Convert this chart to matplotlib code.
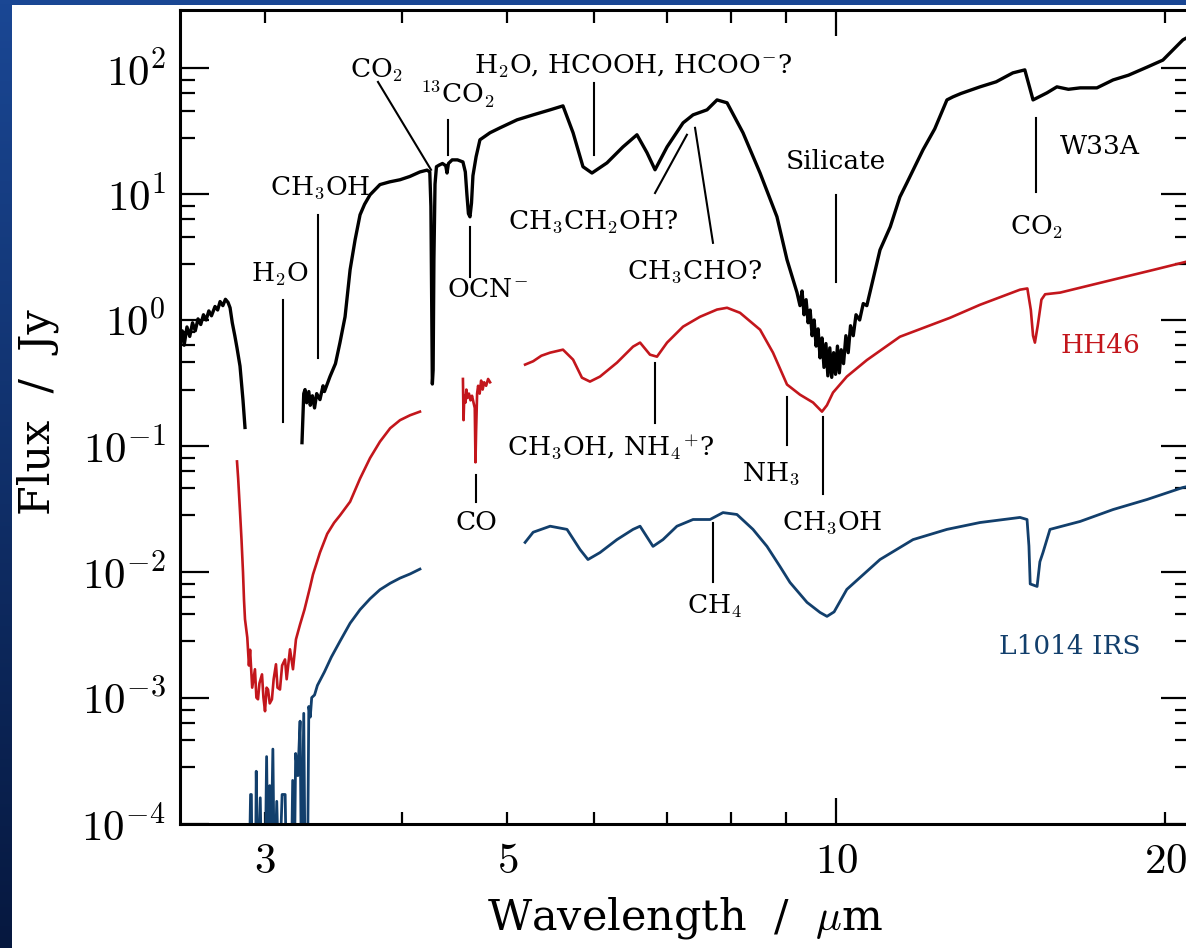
import numpy as np
import matplotlib
matplotlib.use('Agg')
import matplotlib.pyplot as plt
from matplotlib.ticker import FixedLocator, FuncFormatter, NullFormatter
from matplotlib.patches import Rectangle

plt.rcParams['font.family'] = 'DejaVu Serif'
plt.rcParams['mathtext.fontset'] = 'cm'

nan = float('nan')

# ---- spectra (wavelength in micron, flux in Jy); nan separates gaps ----
w33a_wl = [2.508, 2.52, 2.53, 2.545, 2.56, 2.575, 2.59, 2.605, 2.62, 2.635, 2.65, 2.665,
           2.68, 2.70, 2.715, 2.729, 2.745, 2.76, 2.775, 2.787, 2.80, 2.815, 2.828, 2.846,
           2.864, 2.876, nan,
           3.243, 3.255, 3.264, 3.275, 3.29, 3.30, 3.315, 3.33, 3.345, 3.368, 3.39, 3.40,
           3.44, 3.46, 3.48, 3.513, 3.551, 3.589, 3.627, 3.665, 3.70, 3.743, 3.822, 3.90,
           3.987, 4.07, 4.158, 4.22, 4.245, 4.255, 4.262, 4.268, 4.275, 4.282, 4.292, 4.305,
           4.33, 4.36, 4.39, 4.402, 4.415, 4.45, 4.50, 4.552, 4.575, 4.59, 4.605, 4.62,
           4.635, 4.649, 4.68, 4.718, 4.76, 4.819, 4.922, 5.102, 5.278, 5.470, 5.620, 5.741,
           5.862, 5.974, 6.166, 6.377, 6.568, 6.709, 6.823, 6.998, 7.238, 7.392, 7.613,
           7.775, 7.941, 8.212, 8.513, 8.821, 9.010, 9.202, 9.26, 9.30, 9.34, 9.38, 9.42,
           9.46, 9.50, 9.54, 9.58, 9.62, 9.66, 9.70, 9.74, 9.78, 9.82, 9.86, 9.90, 9.94,
           9.98, 10.02, 10.06, 10.10, 10.15, 10.20, 10.25, 10.30, 10.36, 10.42, 10.50,
           10.58, 10.66, 10.73, 10.96, 11.2, 11.43, 11.60, 12.00, 12.3, 12.62, 12.78, 13.0,
           13.53, 14.0, 14.50, 14.87, 15.13, 15.25, 15.58, 15.91, 16.3, 16.71, 17.31,
           17.91, 18.5, 19.24, 19.89, 20.75, 21.06]
w33a_fx = [0.70, 0.82, 0.63, 0.88, 0.74, 0.95, 0.82, 1.02, 0.92, 1.10, 1.00, 1.18,
           1.08, 1.28, 1.20, 1.40, 1.30, 1.46, 1.38, 1.25, 0.95, 0.75, 0.60, 0.43,
           0.23, 0.14, nan,
           0.106, 0.26, 0.28, 0.22, 0.27, 0.21, 0.25, 0.20, 0.26, 0.233, 0.30, 0.27,
           0.355, 0.40, 0.45, 0.66, 1.06, 2.51, 4.34, 6.85, 8.3, 9.87, 11.9, 12.5,
           13.0, 13.8, 15.0, 15.5, 15.0, 8.0, 1.5, 0.31, 0.40, 3.0, 12.0, 16.5,
           17.0, 17.5, 16.8, 14.7, 17.5, 18.7, 18.7, 18.0, 15.0, 10.0, 7.0, 6.6,
           8.5, 14.0, 19.8, 27.0, 28.5, 30.7, 33.6, 38.9, 42.6, 46.7, 50.2, 30.7,
           16.5, 14.7, 17.7, 23.7, 29.6, 21.3, 15.6, 23.7, 36.8, 42.6, 46.7,
           56.0, 53.1, 30.7, 14.7, 6.61, 3.01, 1.65, 1.3, 1.7, 1.1, 1.45, 0.95,
           1.2, 0.75, 1.0, 0.62, 0.85, 0.50, 0.72, 0.42, 0.65, 0.36, 0.60, 0.35, 0.55,
           0.37, 0.62, 0.38, 0.58, 0.45, 0.75, 0.55, 0.90, 0.75, 1.10, 1.0,
           1.35, 1.30, 1.65, 3.6, 5.5, 9.5, 12.3, 22.5, 33.0, 56.0, 59.2, 63.0,
           71.1, 78.0, 91.8, 97.0, 56.0, 58.0, 63.7, 71.1, 68.0, 69.8, 69.8,
           80.7, 88.0, 102.0, 116.0, 168.0, 180.0]

hh46_wl = [2.828, 2.835, 2.846, 2.855, 2.864, 2.870, 2.876, 2.89, 2.90, 2.907, 2.92,
           2.937, 2.946, 2.956, 2.965, 2.981, 2.99, 3.0, 3.01, 3.019, 3.03, 3.044, 3.055,
           3.07, 3.08, 3.096, 3.11, 3.129, 3.14, 3.162, 3.182, 3.202, 3.215, 3.230, 3.26,
           3.298, 3.319, 3.368, 3.42, 3.47, 3.513, 3.589, 3.665, 3.743, 3.822, 3.905,
           3.987, 4.072, 4.158, nan,
           4.552, 4.558, 4.565, 4.575, 4.585, 4.595, 4.61, 4.625, 4.64, 4.655, 4.667,
           4.674, 4.68, 4.69, 4.70, 4.715, 4.73, 4.745, 4.76, 4.78, 4.80, 4.82, nan,
           5.189, 5.278, 5.37, 5.470, 5.620, 5.741, 5.849, 5.949, 6.076, 6.297, 6.514,
           6.611, 6.751, 6.851, 6.998, 7.238, 7.501, 7.775, 7.941, 8.161, 8.513, 8.748,
           9.010, 9.260, 9.518, 9.699, 9.80, 9.927, 10.22, 10.66, 11.43, 12.70, 13.53,
           14.72, 14.95, 15.06, 15.13, 15.19, 15.28, 15.40, 15.52, 16.02, 17.91, 19.5,
           21.06]
hh46_fx = [0.0752, 0.055, 0.030, 0.018, 0.0099, 0.006, 0.0042, 0.0030, 0.0018, 0.0024,
           0.0012, 0.00168, 0.0010, 0.00097, 0.0013, 0.00153, 0.0010, 0.00078, 0.0012,
           0.00116, 0.0009, 0.00097, 0.0014, 0.00184, 0.0012, 0.00116, 0.0018, 0.00201,
           0.0014, 0.00242, 0.00168, 0.0029, 0.0033, 0.00382, 0.0050, 0.0075, 0.0095,
           0.0142, 0.020, 0.0245, 0.028, 0.036, 0.055, 0.080, 0.108, 0.138, 0.160, 0.175,
           0.187, nan,
           0.34, 0.16, 0.25, 0.22, 0.28, 0.24, 0.26, 0.23, 0.25, 0.22, 0.20,
           0.074, 0.13, 0.26, 0.30, 0.26, 0.33, 0.28, 0.32, 0.30, 0.34, 0.32, nan,
           0.442, 0.47, 0.52, 0.550, 0.581, 0.484, 0.348, 0.324, 0.355, 0.458, 0.614,
           0.661, 0.530, 0.511, 0.661, 0.885, 1.06, 1.21, 1.25, 1.14, 0.837, 0.550,
           0.307, 0.255, 0.221, 0.187, 0.21, 0.265, 0.355, 0.48, 0.736, 1.04, 1.32,
           1.74, 1.78, 1.2, 0.75, 0.661, 0.9, 1.45, 1.60, 1.65, 2.09, 2.5,
           2.95]

l1014_wl = [2.90, 2.91, 2.915, 2.92, 2.94, 2.945, 2.955, 2.97, 2.98, 3.0, 3.01, 3.02,
            3.03, 3.035, 3.05, 3.06, 3.075, 3.09, 3.11, 3.13, 3.14, 3.17, 3.18, 3.19,
            3.20, 3.215, 3.23, 3.24, 3.255, 3.265, 3.28, 3.29, 3.30, 3.31, 3.33, 3.35,
            3.40, 3.45, 3.513, 3.589, 3.665, 3.743, 3.822, 3.905, 3.987, 4.072, 4.158, nan,
            5.189, 5.278, 5.470, 5.668, 5.826, 5.924, 6.076, 6.297, 6.514, 6.611, 6.794,
            6.938, 7.145, 7.392, 7.661, 7.873, 8.108, 8.387, 8.638, 8.878, 9.067, 9.398,
            9.659, 9.802, 9.95, 10.22, 10.96, 11.75, 12.62, 13.53, 14.72, 14.94, 15.00,
            15.04, 15.26, 15.35, 15.45, 15.68, 16.71, 17.91, 19.24, 20.75, 21.06]
l1014_fx = [3e-5, 1.7e-4, 1.7e-4, 3e-5, 3e-5, 2.6e-4, 3e-5, 1.6e-4, 3e-5, 3e-5, 3.4e-4,
            3e-5, 2.0e-4, 3e-5, 3.9e-4, 3e-5, 1.5e-4, 3e-5, 1.7e-4, 1.7e-4, 3e-5, 3e-5,
            2.2e-4, 3e-5, 3.6e-4, 2.4e-4, 6.5e-4, 3e-5, 7.5e-4, 3e-5, 3e-5, 8.5e-4,
            7.0e-4, 1.0e-3, 1.05e-3, 1.25e-3, 1.6e-3, 2.1e-3, 2.8e-3, 3.9e-3, 5.0e-3,
            6.1e-3, 7.2e-3, 8.1e-3, 8.9e-3, 9.6e-3, 1.05e-2, nan,
            0.0171, 0.0206, 0.0230, 0.0217, 0.0150, 0.0125, 0.0142, 0.0180, 0.0217,
            0.0230, 0.0159, 0.0180, 0.0230, 0.0260, 0.0260, 0.0295, 0.0285, 0.0217,
            0.0159, 0.0110, 0.00822, 0.00571, 0.00475, 0.00442, 0.0048, 0.00724, 0.0125,
            0.0180, 0.0217, 0.0246, 0.0270, 0.0260, 0.016, 0.0080, 0.00764, 0.012,
            0.0142, 0.0217, 0.0251, 0.0312, 0.0375, 0.0467, 0.048]

# feature labels: text, text position (wl, flux), marker line (wl0, f0, wl1, f1)
features = [
    (r'H$_2$O', 3.096, 2.29, (3.116, 1.45, 3.116, 0.155)),
    (r'CH$_3$OH', 3.368, 11.2, (3.354, 6.85, 3.354, 0.50)),
    (r'CO$_2$', 3.797, 96.9, (3.806, 77.8, 4.256, 15.6)),
    (r'$^{13}$CO$_2$', 4.495, 61.4, (4.411, 38.9, 4.411, 20.5)),
    (r'H$_2$O, HCOOH, HCOO$^{-}$?', 6.514, 104.0, (6.0, 76.5, 6.0, 20.5)),
    (r'OCN$^{-}$', 4.790, 1.74, (4.62, 5.52, 4.62, 2.21)),
    (r'CH$_3$CH$_2$OH?', 5.987, 6.03, (6.823, 10.2, 7.297, 29.6)),
    (r'CH$_3$CHO?', 7.408, 2.42, (7.423, 33.6, 7.709, 4.10)),
    ('Silicate', 9.98, 18.0, (10.0, 9.87, 10.0, 2.01)),
    (r'CO$_2$', 15.26, 5.50, (15.22, 40.3, 15.22, 10.3)),
    (r'CH$_3$OH, NH$_4$$^{+}$?', 6.205, 0.097, (6.823, 0.458, 6.823, 0.153)),
    (r'NH$_3$', 8.71, 0.0603, (9.01, 0.246, 9.01, 0.102)),
    (r'CH$_3$OH', 9.907, 0.0246, (9.719, 0.168, 9.719, 0.0411)),
    ('CO', 4.679, 0.0246, (4.679, 0.0592, 4.679, 0.0361)),
    (r'CH$_4$', 7.726, 0.00531, (7.709, 0.0246, 7.709, 0.00822)),
]

sources = [('W33A', 23.7, 'black'), ('HH46', 0.625, '#c3161c'), ('L1014 IRS', 0.00255, '#123f6c')]

W, H = 1186, 948
fig = plt.figure(figsize=(W / 100, H / 100), dpi=100)

# blue frame behind the white sheet
bg = fig.add_axes([0, 0, 1, 1], zorder=-5)
bg.set_xlim(0, W)
bg.set_ylim(H, 0)
bg.axis('off')
grad = np.linspace(0, 1, 256)[:, None]
bg.imshow(grad, extent=[0, W, H, 0], aspect='auto',
          cmap=matplotlib.colors.LinearSegmentedColormap.from_list('frame', ['#1a4794', '#06183f']))
bg.add_patch(Rectangle((12, 5), W, H, facecolor='white', edgecolor='none'))

left, right, top, bottom = 180, 1190, 10, 823.5
ax = fig.add_axes([left / W, 1 - bottom / H, (right - left) / W, (bottom - top) / H])
ax.set_facecolor('none')
ax.set_xscale('log')
ax.set_yscale('log')

ax.plot(w33a_wl, w33a_fx, color='black', lw=2.4)
ax.plot(hh46_wl, hh46_fx, color=sources[1][2], lw=1.9)
ax.plot(l1014_wl, l1014_fx, color=sources[2][2], lw=2.0)

ax.set_xlim(2.508, 21.06)
ax.set_ylim(1e-4, 290)

for text, tx, ty, (x0, y0, x1, y1) in features:
    ax.plot([x0, x1], [y0, y1], color='black', lw=1.5)
    ax.text(tx, ty, text, ha='center', va='center', fontsize=19)

for name, fy, col in sources:
    ax.text(18.96, fy, name, ha='right', va='center', fontsize=19, color=col)

# axis ticks
ax.xaxis.set_major_locator(FixedLocator([10]))
ax.xaxis.set_minor_locator(FixedLocator([3, 4, 5, 6, 7, 8, 9, 20]))
ax.xaxis.set_major_formatter(FuncFormatter(lambda v, p: r'$10$'))
ax.xaxis.set_minor_formatter(FuncFormatter(
    lambda v, p: {3: r'$3$', 5: r'$5$', 20: r'$20$'}.get(int(round(v)), '')))

decades = [10.0 ** k for k in range(-4, 3)]
ax.yaxis.set_major_locator(FixedLocator(decades))
ax.yaxis.set_minor_locator(FixedLocator([d * m for d in decades for m in (0.28, 0.46, 0.63, 0.80)]))
ax.yaxis.set_major_formatter(FuncFormatter(lambda v, p: r'$10^{%d}$' % round(np.log10(v))))
ax.yaxis.set_minor_formatter(NullFormatter())

ax.tick_params(which='both', direction='in', top=True, right=True, width=1.6, labelsize=31)
ax.tick_params(axis='x', which='major', length=19, pad=12)
ax.tick_params(axis='x', which='minor', length=9, pad=12)
ax.tick_params(axis='y', which='major', length=21, pad=10)
ax.tick_params(axis='y', which='minor', length=11)
for s in ax.spines.values():
    s.set_linewidth(2.2)

fig.text(38 / W, 1 - 412 / H, 'Flux  /  Jy', rotation=90, ha='center', va='center', fontsize=31)
fig.text(685 / W, 1 - 918 / H, r'Wavelength  /  $\mu$m', ha='center', va='center', fontsize=31)

fig.savefig('out.png', dpi=100)
